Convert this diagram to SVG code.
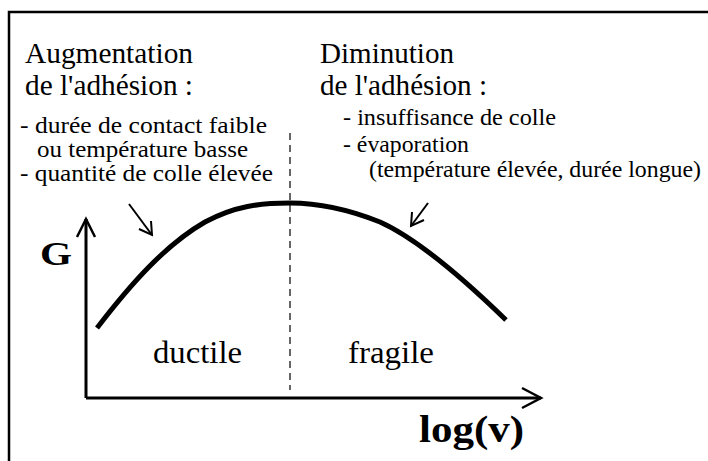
<svg xmlns="http://www.w3.org/2000/svg" width="708" height="461" viewBox="0 0 708 461">
<style>
.t{font-family:"Liberation Serif","Times New Roman",serif;fill:#000}
.b{font-family:"Liberation Serif","Times New Roman",serif;font-weight:bold;fill:#000}
.ax{stroke:#000;stroke-width:3;fill:none}
.ah{stroke:#000;stroke-width:2.5;fill:none;stroke-linejoin:miter}
.sm{stroke:#000;stroke-width:2;fill:none}
</style>
<rect x="0" y="0" width="708" height="461" fill="#fff"/>
<rect x="9" y="12" width="740" height="480" fill="none" stroke="#000" stroke-width="2.5"/>
<g id="left-text">
<text class="t" x="25" y="63" font-size="30" textLength="168" lengthAdjust="spacingAndGlyphs">Augmentation</text>
<text class="t" x="25" y="95" font-size="30" textLength="168" lengthAdjust="spacingAndGlyphs">de l'adhésion :</text>
<text class="t" x="20" y="133" font-size="23" textLength="247" lengthAdjust="spacingAndGlyphs">- durée de contact faible</text>
<text class="t" x="37" y="157" font-size="23" textLength="211" lengthAdjust="spacingAndGlyphs">ou température basse</text>
<text class="t" x="20" y="181" font-size="23" textLength="253" lengthAdjust="spacingAndGlyphs">- quantité de colle élevée</text>
</g>
<g id="right-text">
<text class="t" x="320" y="63" font-size="30" textLength="134" lengthAdjust="spacingAndGlyphs">Diminution</text>
<text class="t" x="320" y="95" font-size="30" textLength="167" lengthAdjust="spacingAndGlyphs">de l'adhésion :</text>
<text class="t" x="343" y="125" font-size="23" textLength="213" lengthAdjust="spacingAndGlyphs">- insuffisance de colle</text>
<text class="t" x="343" y="152" font-size="23" textLength="126" lengthAdjust="spacingAndGlyphs">- évaporation</text>
<text class="t" x="369" y="177" font-size="23" textLength="332" lengthAdjust="spacingAndGlyphs">(température élevée, durée longue)</text>
</g>
<g id="axes">
<path class="ax" d="M86,398 V219 M86,398 H541"/>
<path class="ah" d="M77,237 L86,219 L95,237"/>
<path class="ah" d="M522,388 L541,398 L522,408"/>
<text class="b" x="40" y="265" font-size="34" textLength="32" lengthAdjust="spacingAndGlyphs">G</text>
<text class="b" x="419" y="442" font-size="37" textLength="105" lengthAdjust="spacingAndGlyphs">log(v)</text>
</g>
<g id="curve">
<path d="M97,328 C130,285 165,245 205,222 C235,206 260,203 290,203 C320,203 350,210 380,222 C420,240 470,285 506,320" stroke="#000" stroke-width="5" fill="none"/>
</g>
<line x1="290" y1="133" x2="290" y2="390" stroke="#000" stroke-width="1.2" stroke-dasharray="7 5"/>
<g id="regions">
<text class="t" x="153" y="363" font-size="32" textLength="89" lengthAdjust="spacingAndGlyphs">ductile</text>
<text class="t" x="348" y="363" font-size="32" textLength="86" lengthAdjust="spacingAndGlyphs">fragile</text>
</g>
<g id="connectors">
<path class="sm" d="M129,204 L152,235"/>
<path class="sm" d="M139,229 L152,235 L151,221"/>
<path class="sm" d="M428,203 L411,226"/>
<path class="sm" d="M412,212 L411,226 L424,220"/>
</g>
</svg>
